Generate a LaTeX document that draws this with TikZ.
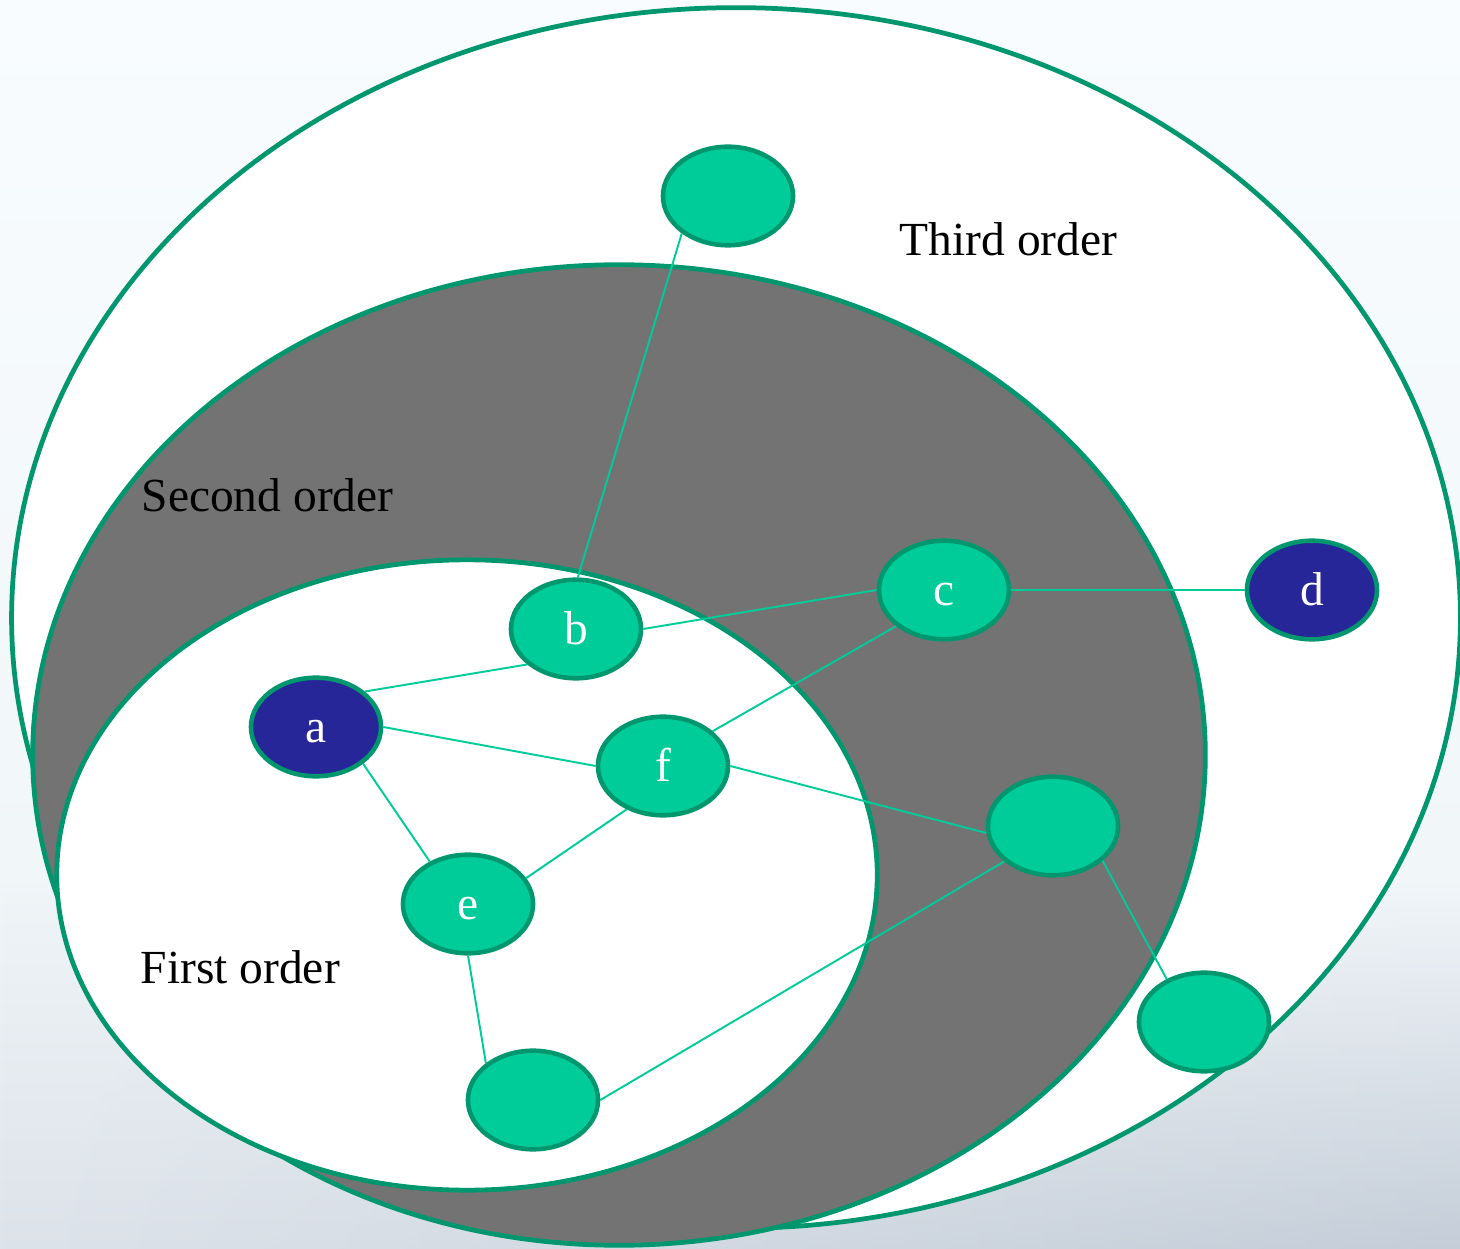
\documentclass[tikz,border=0pt]{standalone}
\usepackage{fontspec}
\setmainfont{Liberation Serif}
\usetikzlibrary{shapes.geometric,fadings}
\definecolor{nodefill}{HTML}{00CC99}
\definecolor{rimgreen}{HTML}{00966E}
\definecolor{navy}{HTML}{262699}
\definecolor{ringgrey}{HTML}{737373}
\definecolor{bgtop}{HTML}{F8FCFF}
\definecolor{bgmid}{HTML}{F1F6F9}
\definecolor{bgbot}{HTML}{DDE3EA}
\definecolor{bgdark}{HTML}{BAC4D1}
\pgfdeclareverticalshading{bgshade}{100bp}{color(0bp)=(bgbot); color(25bp)=(bgbot); color(40bp)=(bgmid); color(75bp)=(bgtop); color(100bp)=(bgtop)}
\tikzfading[name=brfade, left color=transparent!100, right color=transparent!30]
\tikzset{
  vert/.style={ellipse, draw=rimgreen, line width=1.3pt, fill=nodefill,
    minimum width=1.3cm, minimum height=0.985cm, inner sep=0pt,
    text height=0.31cm, text depth=0cm,
    text=white, font=\fontsize{13.5}{16}\selectfont},
  hub/.style={vert, fill=navy},
  link/.style={draw=nodefill, line width=0.55pt},
  ring/.style={draw=rimgreen, line width=1.35pt},
  orderlabel/.style={anchor=base west, inner sep=0pt, text=black,
    font=\fontsize{13.5}{16}\selectfont}
}
\begin{document}
\begin{tikzpicture}[x=0.01cm, y=-0.01cm]
\useasboundingbox (0,0) rectangle (1460,1249);
\shade[shading=bgshade] (0,0) rectangle (1460,1249);
\shade[top color=bgmid, bottom color=bgdark, path fading=brfade] (0,880) rectangle (1460,1249);
% order rings
\draw[ring, fill=white] (736,618) ellipse [x radius=7.24cm, y radius=6.10cm];
\draw[ring, fill=ringgrey] (619,755) ellipse [x radius=5.86cm, y radius=4.90cm];
\draw[ring, fill=white] (467,875) ellipse [x radius=4.10cm, y radius=3.15cm];
% labels
\node[orderlabel] (third) at (899,256) {Third order};
\node[orderlabel] (second) at (141,512) {Second order};
\node[orderlabel] (first) at (140,983) {First order};
% vertices
\node[vert] (top) at (728,196) {};
\node[vert] (b) at (576,629) {b};
\node[vert] (c) at (944,590) {c};
\node[hub]  (d) at (1312,590) {d};
\node[hub]  (a) at (316,727) {a};
\node[vert] (f) at (663,766) {f};
\node[vert] (r) at (1053,826) {};
\node[vert] (e) at (468,904) {e};
\node[vert] (br) at (1204,1022) {};
\node[vert] (bot) at (533,1100) {};
% connectors
\draw[link] (top.219) -- (b.88);
\draw[link] (b.east) -- (c.west);
\draw[link] (a.36) -- (b.216);
\draw[link] (a.east) -- (f.west);
\draw[link] (a.322) -- (e.132);
\draw[link] (f.35) -- (c.217);
\draw[link] (f.east) -- (r.186);
\draw[link] (e.24) -- (f.230);
\draw[link] (c.east) -- (d.west);
\draw[link] (e.south) -- (bot.142);
\draw[link] (bot.east) -- (r.216);
\draw[link] (r.325) -- (br.131);
\end{tikzpicture}
\end{document}
